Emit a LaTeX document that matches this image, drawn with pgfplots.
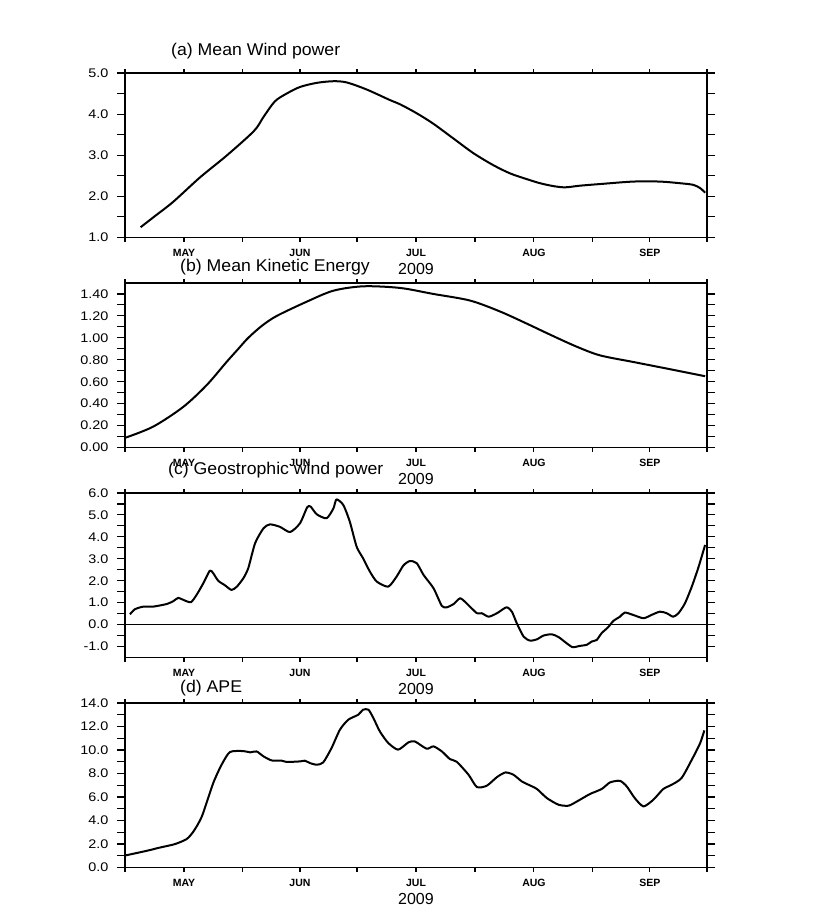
\documentclass[border=0pt]{standalone}
\usepackage{fontspec}
\setmainfont{Liberation Sans}
\newfontfamily\ttl[FakeStretch=1.04]{Liberation Sans}
\newfontfamily\tck[FakeStretch=1.15]{Liberation Sans}
\usepackage{pgfplots}
\pgfplotsset{compat=1.18}

% x = days since 1 May 2009
\pgfplotstableread{
d v
4.1 1.25
8.0 1.53
12.7 1.87
19.7 2.46
26.7 2.99
33.9 3.59
36.4 3.93
39.4 4.31
42.5 4.50
46.0 4.66
50.4 4.76
54.8 4.80
58.3 4.77
63.5 4.60
69.7 4.34
72.3 4.24
76.7 4.02
81.0 3.77
86.3 3.41
91.6 3.05
96.8 2.76
101.2 2.56
105.6 2.42
109.1 2.32
112.6 2.25
115.7 2.22
119.6 2.26
124.9 2.30
133.6 2.36
140.6 2.36
145.9 2.32
149.4 2.28
151.2 2.20
152.5 2.09
}\wind

\pgfplotstableread{
d v
0.0 0.088
7.4 0.19
15.3 0.37
21.5 0.57
26.7 0.78
29.8 0.90
32.4 1.00
36.0 1.11
39.9 1.20
47.8 1.33
54.8 1.43
62.7 1.47
72.3 1.455
81.1 1.40
90.7 1.34
98.6 1.24
105.6 1.13
111.7 1.03
118.7 0.92
124.9 0.84
133.6 0.78
142.4 0.72
152.5 0.65
}\kin

\pgfplotstableread{
d v
1.3 0.47
2.6 0.70
4.8 0.82
7.4 0.82
11.0 0.94
12.7 1.07
14.0 1.22
15.3 1.13
17.3 1.02
18.8 1.35
20.6 1.89
22.3 2.46
23.2 2.34
24.5 2.00
26.3 1.79
28.0 1.58
29.4 1.73
31.1 2.11
32.4 2.57
34.2 3.71
36.4 4.39
38.1 4.57
40.7 4.46
43.4 4.22
46.0 4.62
47.9 5.35
48.8 5.38
50.4 5.03
53.0 4.85
54.8 5.30
55.6 5.71
57.4 5.45
59.1 4.69
60.9 3.55
62.6 3.02
64.4 2.41
66.2 1.96
69.2 1.73
71.4 2.19
73.2 2.70
74.9 2.90
76.7 2.80
78.5 2.26
81.1 1.66
83.3 0.85
84.6 0.79
86.4 0.94
88.1 1.20
89.8 0.97
92.5 0.52
93.8 0.52
95.6 0.36
97.8 0.52
100.3 0.79
101.7 0.59
103.0 0.06
104.8 -0.55
106.5 -0.73
108.3 -0.67
110.0 -0.50
112.2 -0.44
114.0 -0.57
116.1 -0.85
117.7 -1.03
119.6 -0.97
121.4 -0.92
122.7 -0.77
124.0 -0.70
125.3 -0.39
127.0 -0.12
128.4 0.17
130.1 0.36
131.4 0.55
133.6 0.44
136.3 0.29
138.4 0.44
140.6 0.59
142.4 0.52
144.1 0.36
145.5 0.52
147.2 0.97
149.0 1.73
150.8 2.64
152.5 3.63
}\geo

\pgfplotstableread{
d v
0.0 1.02
5.7 1.42
9.2 1.70
13.1 1.99
16.2 2.42
18.0 3.07
20.2 4.34
23.2 7.19
25.4 8.75
27.6 9.83
31.1 9.91
32.9 9.80
34.6 9.88
36.4 9.46
38.6 9.11
41.2 9.09
42.5 8.98
46.0 9.03
47.3 9.09
48.6 8.89
50.4 8.75
52.1 8.94
54.3 10.17
56.5 11.73
58.7 12.58
61.3 13.00
62.6 13.43
64.0 13.43
65.3 12.72
67.0 11.58
69.2 10.60
71.8 10.03
74.5 10.65
76.2 10.73
79.3 10.11
81.1 10.31
83.3 9.88
85.4 9.23
87.2 9.00
90.3 7.90
92.5 6.85
95.1 6.96
97.8 7.70
100.0 8.09
102.1 7.90
104.3 7.33
106.1 7.04
108.3 6.68
110.9 5.91
114.0 5.34
116.6 5.26
118.8 5.62
122.2 6.25
125.3 6.68
127.5 7.24
130.1 7.38
131.9 6.90
134.0 5.91
136.3 5.20
138.9 5.77
141.5 6.68
143.7 7.04
146.3 7.61
149.0 9.17
151.2 10.59
152.3 11.67
}\ape

\pgfplotsset{
  ncl/.style={
    scale only axis, width=582pt, height=164.5pt,
    anchor=north west,
    xmin=0, xmax=153,
    xtick={0,31,61,92,123,153}, xticklabels={},
    extra x ticks={15.5,46,76.5,107.5,138},
    extra x tick labels={MAY,JUN,JUL,AUG,SEP},
    x tick label style={font=\bfseries\fontsize{10.5}{11}\selectfont},
    extra x tick style={major tick length=0pt,
      xticklabel style={anchor=center, yshift=-15pt}},
    tick align=outside,
    major tick length=8pt, minor tick length=8pt,
    xtick style={/pgfplots/major tick length=4pt},
    minor y tick num=1,
    axis line style={line width=1.1pt},
    tick style={black, line width=1.1pt},
    scaled y ticks=false,
    /pgf/number format/assume math mode=true,
    y tick label style={font=\tck\fontsize{12.5}{13}\selectfont, xshift=-5pt,
      /pgf/number format/fixed, /pgf/number format/fixed zerofill,
      /pgf/number format/precision=1},
    xlabel={2009},
    xlabel style={font=\fontsize{16}{17}\selectfont,
      at={(axis description cs:0.5,0)}, anchor=center, yshift=-31pt},
  },
  crv/.style={black, line width=2pt, line join=round, mark=none},
}

\begin{document}
\begin{tikzpicture}
\path[use as bounding box] (0pt,0pt) rectangle (830pt,-913pt);

\begin{axis}[ncl, at={(125pt,-73pt)}, ymin=1, ymax=5, ytick={1,2,3,4,5}]
\addplot[crv, smooth] table[x=d, y=v] {\wind};
\end{axis}

\begin{axis}[ncl, at={(125pt,-283pt)}, ymin=0, ymax=1.5,
  ytick={0,0.2,0.4,0.6,0.8,1.0,1.2,1.4},
  y tick label style={/pgf/number format/precision=2}]
\addplot[crv, smooth] table[x=d, y=v] {\kin};
\end{axis}

\begin{axis}[ncl, at={(125pt,-493pt)}, ymin=-1.5, ymax=6, ytick={-1,0,1,2,3,4,5,6}]
\addplot[crv, smooth, tension=0.4] table[x=d, y=v] {\geo};
\addplot[black, line width=1.7pt] coordinates {(0,0) (153,0)};
\end{axis}

\begin{axis}[ncl, at={(125pt,-703pt)}, ymin=0, ymax=14, ytick={0,2,4,6,8,10,12,14}]
\addplot[crv, smooth, tension=0.4] table[x=d, y=v] {\ape};
\end{axis}

\begin{scope}[every node/.style={anchor=west, inner sep=0pt, font=\ttl\fontsize{17}{18}\selectfont}]
\node at (171pt,-50.7pt) {(a) Mean Wind power};
\node at (180pt,-267pt) {(b) Mean Kinetic Energy};
\node at (168pt,-470pt) {(c) Geostrophic wind power};
\node at (180pt,-688pt) {(d) APE};
\end{scope}
\end{tikzpicture}
\end{document}
